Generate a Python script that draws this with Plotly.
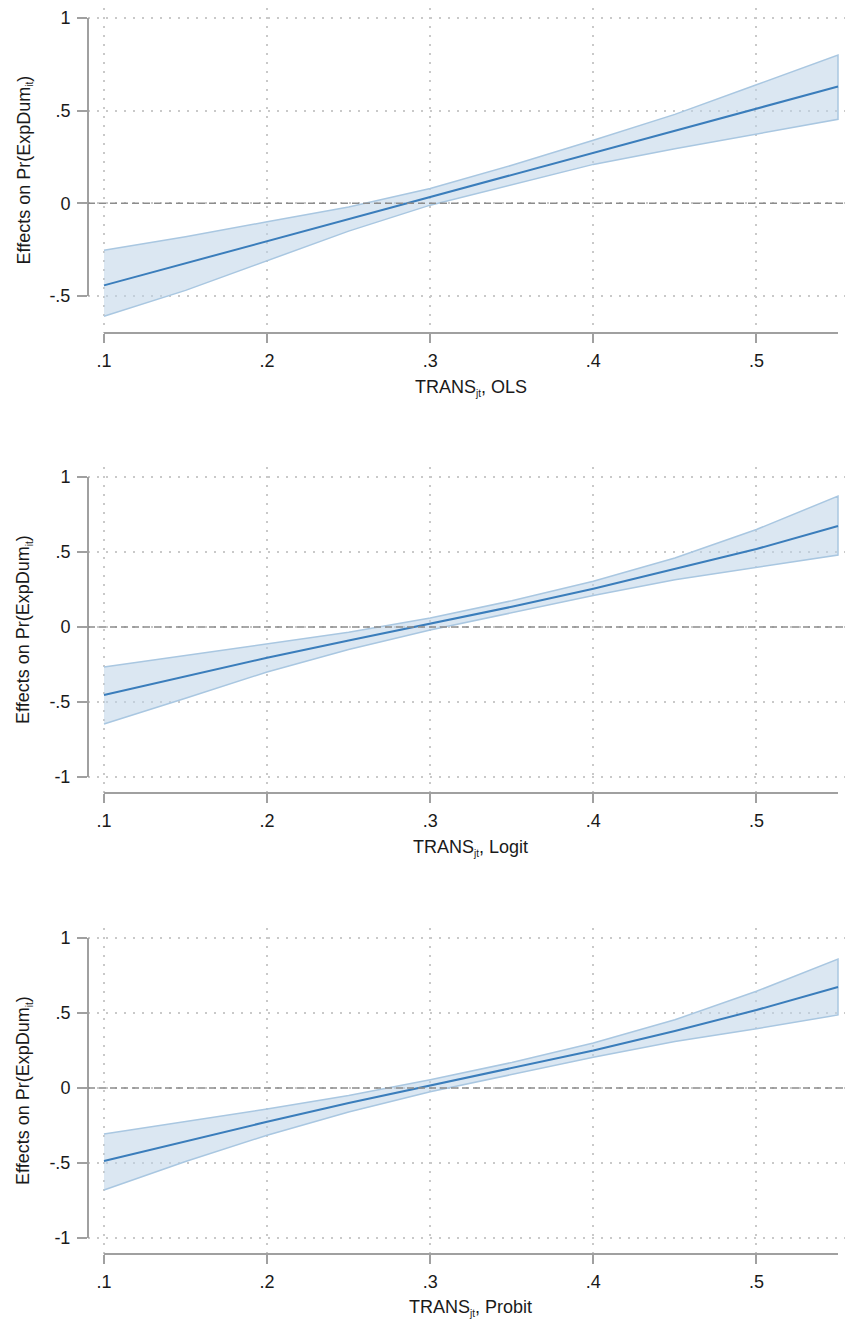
import plotly.graph_objects as go

# ---------------- data ----------------
trans = [0.10, 0.15, 0.20, 0.25, 0.30, 0.35, 0.40, 0.45, 0.50, 0.55]

ols_eff = [-0.443, -0.324, -0.205, -0.085, 0.034, 0.153, 0.272, 0.390, 0.510, 0.630]
ols_hi = [-0.254, -0.180, -0.100, -0.020, 0.080, 0.205, 0.340, 0.480, 0.640, 0.800]
ols_lo = [-0.610, -0.470, -0.310, -0.150, -0.010, 0.100, 0.210, 0.295, 0.375, 0.453]

logit_eff = [-0.453, -0.330, -0.205, -0.090, 0.020, 0.135, 0.255, 0.385, 0.520, 0.673]
logit_hi = [-0.267, -0.190, -0.115, -0.035, 0.060, 0.175, 0.305, 0.460, 0.650, 0.873]
logit_lo = [-0.647, -0.475, -0.300, -0.150, -0.020, 0.095, 0.210, 0.315, 0.400, 0.480]

probit_eff = [-0.487, -0.355, -0.225, -0.100, 0.015, 0.130, 0.250, 0.380, 0.520, 0.673]
probit_hi = [-0.307, -0.225, -0.140, -0.050, 0.055, 0.170, 0.300, 0.455, 0.645, 0.860]
probit_lo = [-0.680, -0.490, -0.315, -0.160, -0.025, 0.090, 0.205, 0.310, 0.395, 0.487]

x_ticks = [0.1, 0.2, 0.3, 0.4, 0.5]
x_ticktext = [".1", ".2", ".3", ".4", ".5"]
y_ticks_1 = [-0.5, 0, 0.5, 1]
y_ticktext_1 = ["-.5", "0", ".5", "1"]
y_ticks_23 = [-1, -0.5, 0, 0.5, 1]
y_ticktext_23 = ["-1", "-.5", "0", ".5", "1"]

SUB = "<sub><span style='font-size:10px'>{}</span></sub>"
x_titles = ["TRANS" + SUB.format("jt") + ", OLS",
            "TRANS" + SUB.format("jt") + ", Logit",
            "TRANS" + SUB.format("jt") + ", Probit"]
y_title = "Effects on Pr(ExpDum" + SUB.format("it") + ")"

# ---------------- layout params ----------------
W, H = 847, 1322
LINE_COL = "#3a7dbb"
FILL_COL = "rgba(190,212,232,0.55)"
EDGE_COL = "#a9c7e1"
AXIS_COL = "#a0a0a0"
GRID_COL = "#c9c9c9"
TXT_COL = "#1a1a1a"
FONT = "Liberation Sans, Arial, sans-serif"
FS = 18

panels = [
    dict(eff=ols_eff, hi=ols_hi, lo=ols_lo, top=8, bot=333, yr=[-0.70, 1.054],
         yt=y_ticks_1, ytt=y_ticktext_1, ymin=-0.5, xt_y=388),
    dict(eff=logit_eff, hi=logit_hi, lo=logit_lo, top=467, bot=793, yr=[-1.107, 1.067],
         yt=y_ticks_23, ytt=y_ticktext_23, ymin=-1, xt_y=848),
    dict(eff=probit_eff, hi=probit_hi, lo=probit_lo, top=928, bot=1254, yr=[-1.107, 1.067],
         yt=y_ticks_23, ytt=y_ticktext_23, ymin=-1, xt_y=1308),
]

x_left_px, x_right_px = 88, 845
x_range = [0.0902, 0.5543]

fig = go.Figure()
shapes = []
annotations = []
layout = {}

for i, p in enumerate(panels, start=1):
    xa = "x" if i == 1 else f"x{i}"
    ya = "y" if i == 1 else f"y{i}"
    xkey = "xaxis" if i == 1 else f"xaxis{i}"
    ykey = "yaxis" if i == 1 else f"yaxis{i}"

    # confidence band as closed polygon
    fig.add_trace(go.Scatter(
        x=trans + trans[::-1], y=p["hi"] + p["lo"][::-1],
        fill="toself", fillcolor=FILL_COL, mode="lines",
        line=dict(color=EDGE_COL, width=1.5),
        xaxis=xa, yaxis=ya, showlegend=False, hoverinfo="skip"))
    fig.add_trace(go.Scatter(
        x=trans, y=p["eff"], mode="lines",
        line=dict(color=LINE_COL, width=2),
        xaxis=xa, yaxis=ya, showlegend=False))

    dom_y = [1 - p["bot"] / H, 1 - p["top"] / H]
    layout[xkey] = dict(
        domain=[x_left_px / W, x_right_px / W], range=x_range, anchor=ya,
        tickvals=x_ticks, ticktext=x_ticktext, ticks="outside", ticklen=9,
        tickcolor=AXIS_COL, tickwidth=1.5, showline=False, zeroline=False,
        showgrid=True, gridcolor=GRID_COL, griddash="2px,7px", gridwidth=1.5,
        tickfont=dict(family=FONT, size=FS, color=TXT_COL), ticklabelstandoff=2)
    layout[ykey] = dict(
        domain=dom_y, range=p["yr"], anchor=xa,
        tickvals=p["yt"], ticktext=p["ytt"], ticks="outside", ticklen=10,
        tickcolor=AXIS_COL, tickwidth=1.5, showline=False, zeroline=False,
        showgrid=True, gridcolor=GRID_COL, griddash="2px,7px", gridwidth=1.5,
        tickfont=dict(family=FONT, size=FS, color=TXT_COL), ticklabelstandoff=3)

    # y axis line (spans tick range)
    shapes.append(dict(type="line", xref=f"{xa} domain", x0=0, x1=0,
                       yref=ya, y0=p["ymin"], y1=1,
                       line=dict(color=AXIS_COL, width=2)))
    # x axis line (spans data range)
    shapes.append(dict(type="line", xref=xa, x0=0.1, x1=0.55,
                       yref=f"{ya} domain", y0=0, y1=0,
                       line=dict(color=AXIS_COL, width=2)))
    # zero reference line
    shapes.append(dict(type="line", xref=f"{xa} domain", x0=0, x1=1,
                       yref=ya, y0=0, y1=0,
                       line=dict(color="#8c8c8c", width=1.5, dash="7px,4px")))

    annotations.append(dict(
        text=y_title, textangle=-90, xref="paper", x=24 / W, xanchor="center",
        yref=f"{ya} domain", y=0.5, yanchor="middle", showarrow=False,
        font=dict(family=FONT, size=FS, color=TXT_COL)))
    annotations.append(dict(
        text=x_titles[i - 1], xref=xa, x=0.325, xanchor="center",
        yref="paper", y=1 - p["xt_y"] / H, yanchor="middle", showarrow=False,
        font=dict(family=FONT, size=FS, color=TXT_COL)))

fig.update_layout(
    width=W, height=H, margin=dict(l=0, r=0, t=0, b=0),
    paper_bgcolor="white", plot_bgcolor="white",
    shapes=shapes, annotations=annotations, **layout)

fig.write_html("out.html", config={"displayModeBar": False},
               post_script="document.body.style.margin='0';document.body.style.overflow='hidden';")
